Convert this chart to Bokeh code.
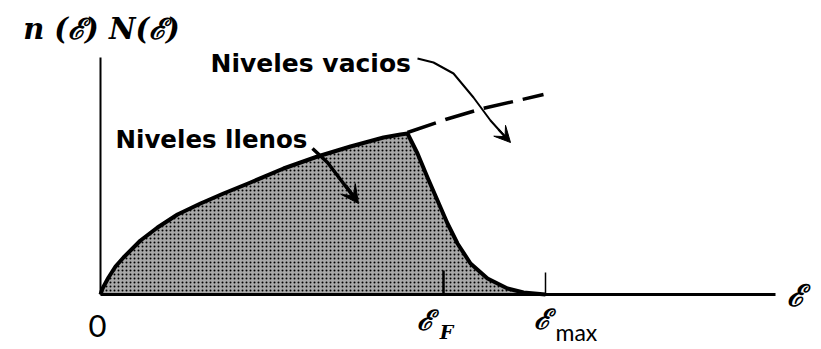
from bokeh.plotting import figure
from bokeh.models import Range1d, Arrow, VeeHead
from bokeh.core.properties import value
from bokeh.embed import file_html
from bokeh.resources import INLINE

# Occupied-state distribution n(E) (filled region), energy in arbitrary units
energy_filled = [0.00, 0.02, 0.08, 0.15, 0.23, 0.40, 0.57, 0.77, 1.00, 1.23, 1.50, 1.83, 2.17,
                 2.50, 2.83, 3.00, 3.07, 3.17, 3.27, 3.37, 3.47, 3.57, 3.70, 3.87,
                 4.07, 4.23, 4.45]
n_filled = [0.00, 0.06, 0.17, 0.28, 0.37, 0.54, 0.67, 0.80, 0.91, 1.01, 1.12, 1.26, 1.38,
            1.48, 1.57, 1.60, 1.61, 1.41, 1.17, 0.94, 0.71, 0.51, 0.31, 0.16,
            0.06, 0.02, 0.00]

# Density of available states N(E) beyond the occupied edge (dashed)
energy_empty = [3.07, 3.45, 3.82, 4.13, 4.43]
n_empty = [1.62, 1.75, 1.86, 1.93, 2.00]

# Characteristic energies marked on the axis
E_fermi = 3.43
E_max = 4.45
E_axis_end = 6.75
n_axis_top = 2.37

p = figure(width=821, height=349, output_backend="svg", toolbar_location=None,
           x_range=Range1d(-1.0, 7.21), y_range=Range1d(-0.55, 2.94),
           min_border=0, outline_line_color=None)
p.axis.visible = False
p.grid.visible = False

# stippled occupied region
p.varea(x=energy_filled, y1=[0] * len(energy_filled), y2=n_filled,
        fill_color="#a8a8a8", hatch_pattern=".", hatch_color="black",
        hatch_scale=4, hatch_weight=1.3)
p.line(energy_filled, n_filled, line_color="black", line_width=4, line_join="round")
p.line(energy_empty, n_empty, line_color="black", line_width=3.5, line_dash="30 10")

# axes
p.line([0, E_axis_end], [0, 0], line_color="black", line_width=3)
p.line([0, 0], [0, n_axis_top], line_color="black", line_width=2)
p.line([E_fermi, E_fermi], [0, 0.24], line_color="black", line_width=2.5)
p.line([E_max, E_max], [0, 0.22], line_color="black", line_width=1.5)

# annotation arrows
vac_x = [3.17, 3.33, 3.53, 3.73, 3.90, 4.08]
vac_y = [2.36, 2.32, 2.21, 1.97, 1.74, 1.54]
p.line(vac_x, vac_y, line_color="black", line_width=2)
p.add_layout(Arrow(end=VeeHead(size=16, line_color="black", fill_color="black", line_width=1),
                   x_start=3.98, y_start=1.65, x_end=4.10, y_end=1.52,
                   line_color="black", line_width=2))

ll_x = [2.12, 2.27, 2.43, 2.54]
ll_y = [1.46, 1.32, 1.11, 0.97]
p.line(ll_x, ll_y, line_color="black", line_width=3.5)
p.add_layout(Arrow(end=VeeHead(size=18, line_color="black", fill_color="black", line_width=1),
                   x_start=2.45, y_start=1.09, x_end=2.58, y_end=0.91,
                   line_color="black", line_width=3.5))

sans = value("DejaVu Sans")
serif = value("DejaVu Serif")

p.text(x=[1.10], y=[2.31], text=["Niveles vacios"], text_font=sans, text_font_style="bold",
       text_font_size="25px", text_align="left", text_baseline="alphabetic", text_color="black")
p.text(x=[0.15], y=[1.55], text=["Niveles llenos"], text_font=sans, text_font_style="bold",
       text_font_size="24.5px", text_align="left", text_baseline="alphabetic", text_color="black")

p.text(x=[0.01], y=[2.66], text=["n (ℰ) N(ℰ)"], text_font=serif, text_font_style="bold italic",
       text_font_size="29px", text_align="center", text_baseline="middle", text_color="black")

p.text(x=[-0.03], y=[-0.31], text=["0"], text_font=value("Lato"), text_font_size="31px",
       text_align="center", text_baseline="middle", text_color="black")

p.text(x=[3.25], y=[-0.26], text=["ℰ"], text_font=serif, text_font_style="bold italic",
       text_font_size="28px", text_align="center", text_baseline="middle", text_color="black")
p.text(x=[3.46], y=[-0.37], text=["F"], text_font=serif, text_font_style="bold italic",
       text_font_size="19px", text_align="center", text_baseline="middle", text_color="black")

p.text(x=[4.42], y=[-0.25], text=["ℰ"], text_font=serif, text_font_style="bold italic",
       text_font_size="28px", text_align="center", text_baseline="middle", text_color="black")
p.text(x=[4.55], y=[-0.37], text=["max"], text_font=value("Lato"), text_font_size="23px",
       text_align="left", text_baseline="middle", text_color="black")

p.text(x=[6.95], y=[-0.01], text=["ℰ"], text_font=serif, text_font_style="bold italic",
       text_font_size="30px", text_align="center", text_baseline="middle", text_color="black")

open("out.html", "w").write(file_html(p, INLINE))
